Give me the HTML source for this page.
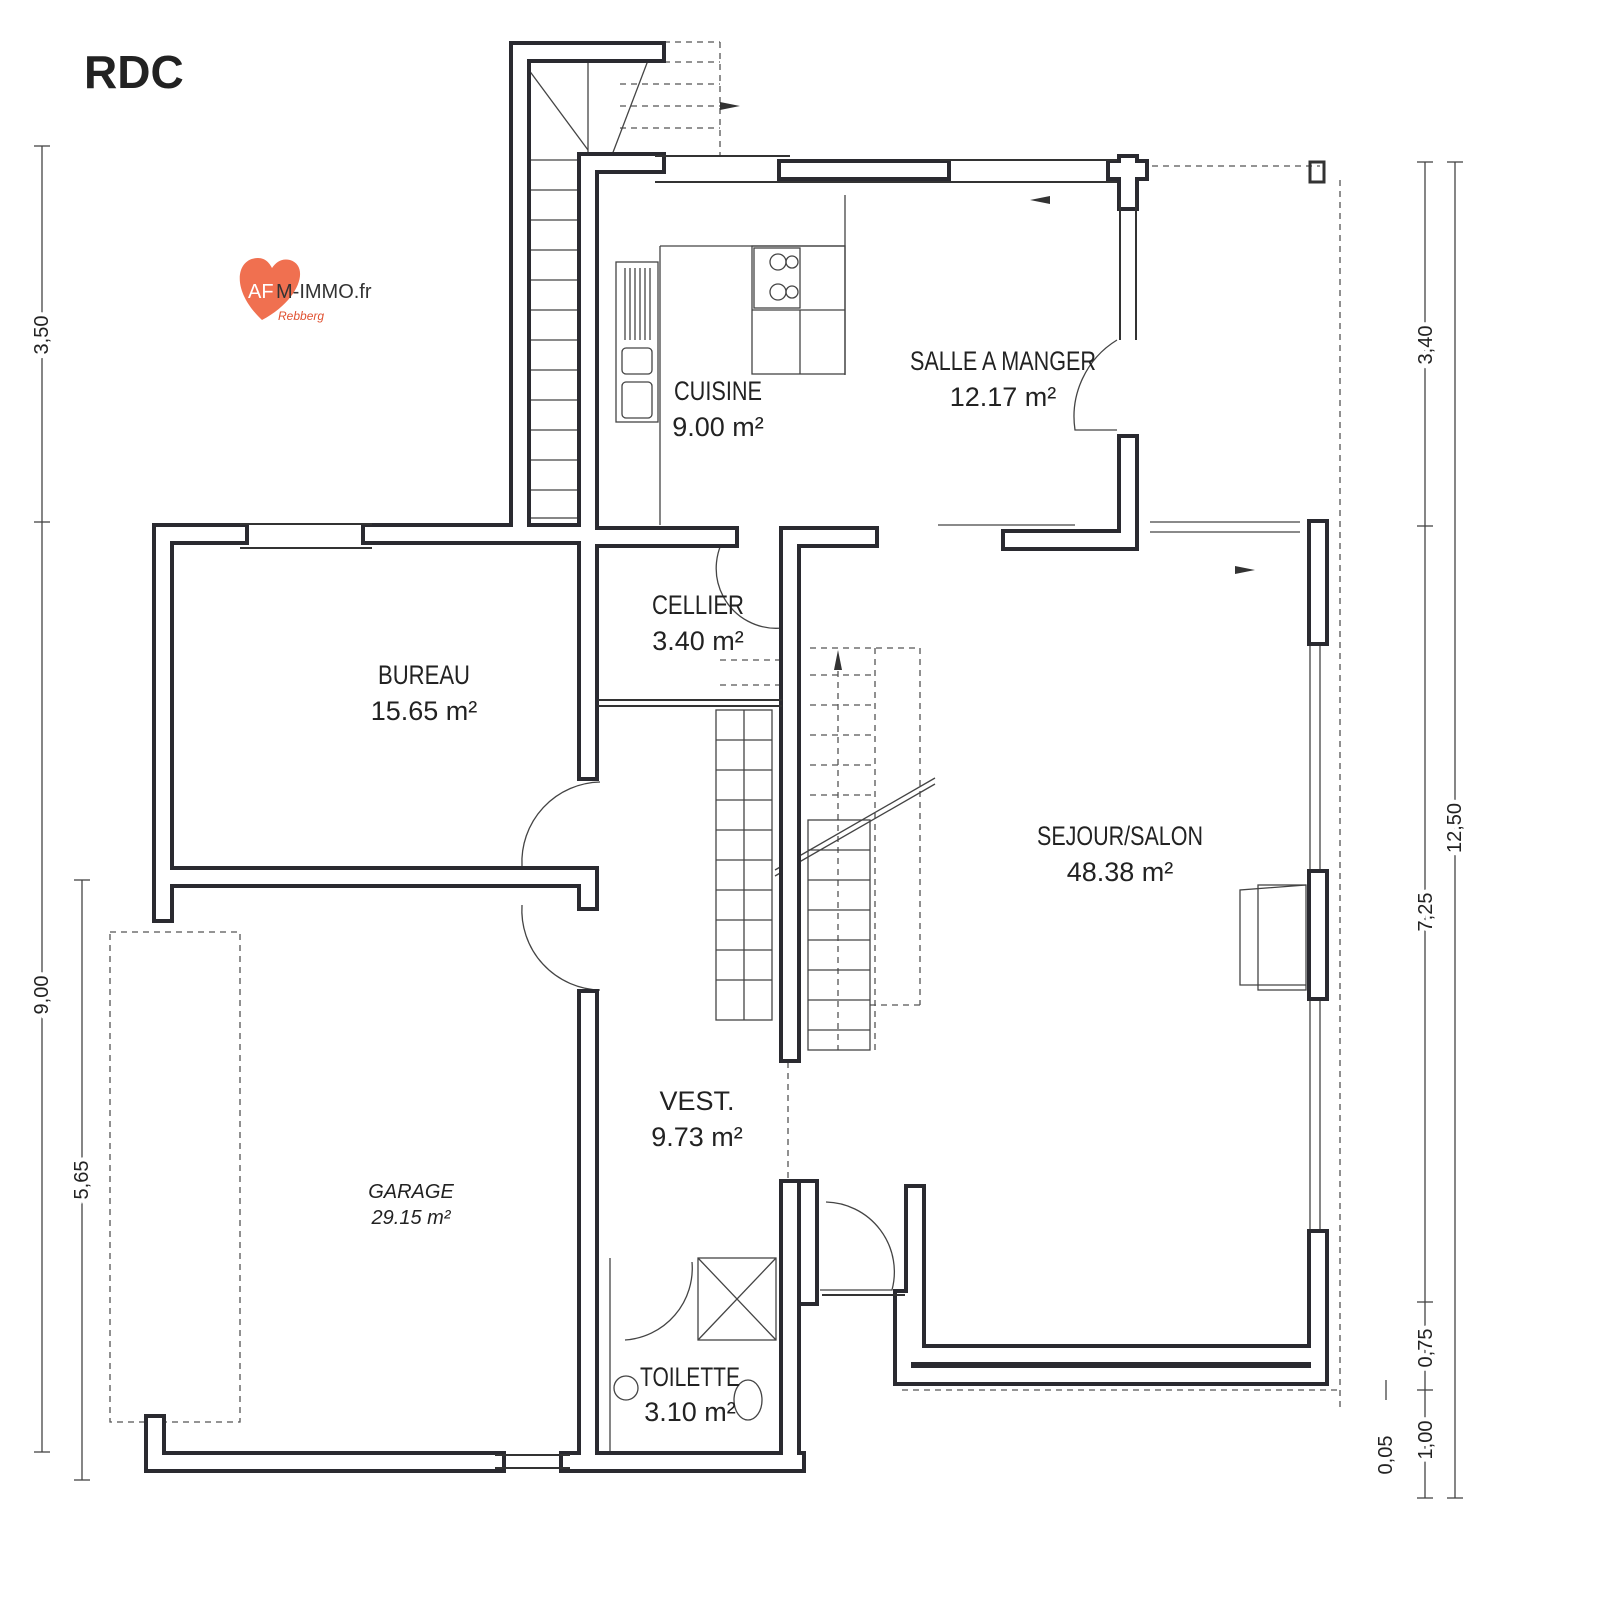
<!DOCTYPE html>
<html><head><meta charset="utf-8"><style>
html,body{margin:0;padding:0;background:#fff}
svg{display:block}
text{font-family:"Liberation Sans Narrow","Liberation Sans",sans-serif;fill:#222}
</style></head><body>
<svg width="1600" height="1600" viewBox="0 0 1600 1600" xmlns="http://www.w3.org/2000/svg">
<rect width="1600" height="1600" fill="#fff"/>
<text x="84" y="88" font-family="Liberation Sans" font-weight="bold" font-size="46" style="font-family:'Liberation Sans',sans-serif">RDC</text>
<path d="M262 320 C230 290 236 258 258 258 C266 258 270 264 272 268 C276 262 282 258 290 260 C310 266 300 300 262 320Z" fill="#f07050"/>
<text x="248" y="298" font-size="20" fill="#fff" style="fill:#fff">AF</text>
<text x="276" y="298" font-size="20" style="fill:#333">M-IMMO.fr</text>
<text x="278" y="320" font-size="12" font-style="italic" style="fill:#e05030">Rebberg</text>

<g stroke="#444" stroke-width="1.3" fill="none">
<line x1="42" y1="146" x2="42" y2="1452"/>
<line x1="34" y1="146" x2="50" y2="146"/><line x1="34" y1="522" x2="50" y2="522"/><line x1="34" y1="1452" x2="50" y2="1452"/>
<line x1="82" y1="880" x2="82" y2="1480"/>
<line x1="74" y1="880" x2="90" y2="880"/><line x1="74" y1="1480" x2="90" y2="1480"/>
<line x1="1455" y1="162" x2="1455" y2="1498"/>
<line x1="1447" y1="162" x2="1463" y2="162"/><line x1="1447" y1="1498" x2="1463" y2="1498"/>
<line x1="1425" y1="162" x2="1425" y2="1498"/>
<line x1="1417" y1="162" x2="1433" y2="162"/><line x1="1417" y1="526" x2="1433" y2="526"/><line x1="1417" y1="1302" x2="1433" y2="1302"/><line x1="1417" y1="1390" x2="1433" y2="1390"/><line x1="1417" y1="1498" x2="1433" y2="1498"/>
<line x1="1386" y1="1380" x2="1386" y2="1400"/>
</g>
<g font-size="20" style="font-family:'Liberation Sans',sans-serif">
<text transform="translate(48,995) rotate(-90)" text-anchor="middle" stroke="#fff" stroke-width="8" style="paint-order:stroke">9,00</text>
<text transform="translate(88,1180) rotate(-90)" text-anchor="middle" stroke="#fff" stroke-width="8" style="paint-order:stroke">5,65</text>
<text transform="translate(1461,828) rotate(-90)" text-anchor="middle" stroke="#fff" stroke-width="8" style="paint-order:stroke">12,50</text>
<text transform="translate(1432,345) rotate(-90)" text-anchor="middle" stroke="#fff" stroke-width="8" style="paint-order:stroke">3,40</text>
<text transform="translate(1432,912) rotate(-90)" text-anchor="middle" stroke="#fff" stroke-width="8" style="paint-order:stroke">7,25</text>
<text transform="translate(1432,1348) rotate(-90)" text-anchor="middle" stroke="#fff" stroke-width="8" style="paint-order:stroke">0,75</text>
<text transform="translate(1432,1440) rotate(-90)" text-anchor="middle" stroke="#fff" stroke-width="8" style="paint-order:stroke">1,00</text>
<text transform="translate(1392,1455) rotate(-90)" text-anchor="middle">0,05</text>
<text transform="translate(48,335) rotate(-90)" text-anchor="middle" stroke="#fff" stroke-width="8" style="paint-order:stroke">3,50</text>
</g>

<g stroke="#555" stroke-width="1.3" fill="none" stroke-dasharray="6,5">
<rect x="110" y="932" width="130" height="490"/>
<line x1="1130" y1="166" x2="1320" y2="166"/>
<line x1="1340" y1="180" x2="1340" y2="1410"/>
<line x1="902" y1="1390" x2="1340" y2="1390"/>
<line x1="620" y1="42" x2="720" y2="42"/><line x1="720" y1="42" x2="720" y2="155"/>
<line x1="620" y1="62" x2="720" y2="62"/><line x1="620" y1="84" x2="720" y2="84"/><line x1="620" y1="106" x2="720" y2="106"/><line x1="620" y1="128" x2="720" y2="128"/>
<line x1="810" y1="648" x2="920" y2="648"/><line x1="920" y1="648" x2="920" y2="1005"/><line x1="870" y1="1005" x2="920" y2="1005"/>
<line x1="875" y1="648" x2="875" y2="1050"/>
<line x1="838" y1="660" x2="838" y2="1050"/>
<line x1="720" y1="660" x2="785" y2="660"/><line x1="720" y1="685" x2="785" y2="685"/>
<line x1="788" y1="1040" x2="788" y2="1180"/>
</g>
<g stroke="#555" stroke-width="1.2" stroke-dasharray="6,5">
<line x1="810" y1="675" x2="875" y2="675"/><line x1="810" y1="705" x2="875" y2="705"/><line x1="810" y1="735" x2="875" y2="735"/><line x1="810" y1="765" x2="875" y2="765"/><line x1="810" y1="795" x2="875" y2="795"/>
</g>

<g stroke="#444" stroke-width="1.3" fill="none">
<rect x="520" y="58" width="68" height="460"/>
<line x1="520" y1="58" x2="588" y2="150"/>
<line x1="655" y1="42" x2="612" y2="155"/>
<line x1="520" y1="160" x2="588" y2="160"/><line x1="520" y1="190" x2="588" y2="190"/><line x1="520" y1="220" x2="588" y2="220"/><line x1="520" y1="250" x2="588" y2="250"/><line x1="520" y1="280" x2="588" y2="280"/><line x1="520" y1="310" x2="588" y2="310"/><line x1="520" y1="340" x2="588" y2="340"/><line x1="520" y1="370" x2="588" y2="370"/><line x1="520" y1="400" x2="588" y2="400"/><line x1="520" y1="430" x2="588" y2="430"/><line x1="520" y1="460" x2="588" y2="460"/><line x1="520" y1="490" x2="588" y2="490"/>
<rect x="716" y="710" width="56" height="310"/>
<line x1="744" y1="710" x2="744" y2="1020"/>
<line x1="716" y1="740" x2="772" y2="740"/><line x1="716" y1="770" x2="772" y2="770"/><line x1="716" y1="800" x2="772" y2="800"/><line x1="716" y1="830" x2="772" y2="830"/><line x1="716" y1="860" x2="772" y2="860"/><line x1="716" y1="890" x2="772" y2="890"/><line x1="716" y1="920" x2="772" y2="920"/><line x1="716" y1="950" x2="772" y2="950"/><line x1="716" y1="980" x2="772" y2="980"/>
<rect x="808" y="820" width="62" height="230"/>
<line x1="808" y1="850" x2="870" y2="850"/><line x1="808" y1="880" x2="870" y2="880"/><line x1="808" y1="910" x2="870" y2="910"/><line x1="808" y1="940" x2="870" y2="940"/><line x1="808" y1="970" x2="870" y2="970"/><line x1="808" y1="1000" x2="870" y2="1000"/><line x1="808" y1="1030" x2="870" y2="1030"/>
<line x1="775" y1="870" x2="935" y2="778"/><line x1="775" y1="876" x2="935" y2="784"/>
<line x1="660" y1="246" x2="845" y2="246"/><line x1="660" y1="246" x2="660" y2="525"/>
<line x1="845" y1="195" x2="845" y2="375"/>
<rect x="752" y="246" width="93" height="128"/>
<line x1="752" y1="310" x2="845" y2="310"/><line x1="800" y1="310" x2="800" y2="374"/>
<rect x="754" y="248" width="46" height="60"/>
<circle cx="778" cy="262" r="8"/><circle cx="778" cy="292" r="8"/><circle cx="792" cy="262" r="6"/><circle cx="792" cy="292" r="6"/>
<rect x="616" y="262" width="42" height="160"/>
<rect x="622" y="348" width="30" height="26" rx="4"/><rect x="622" y="382" width="30" height="36" rx="4"/>
<line x1="625" y1="268" x2="625" y2="340"/><line x1="630" y1="268" x2="630" y2="340"/><line x1="635" y1="268" x2="635" y2="340"/><line x1="640" y1="268" x2="640" y2="340"/><line x1="645" y1="268" x2="645" y2="340"/><line x1="650" y1="268" x2="650" y2="340"/>
<path d="M1117 340 A90 90 0 0 0 1075 430 L1117 430"/>
<path d="M730 530 A60 60 0 0 0 782 628"/>
<path d="M600 782 A80 80 0 0 0 522 866"/>
<path d="M600 990 A80 80 0 0 1 522 905"/>
<path d="M826 1202 A70 70 0 0 1 892 1290 L820 1290"/>
<path d="M692 1262 A72 72 0 0 1 625 1340"/>
<rect x="698" y="1258" width="78" height="82"/><line x1="698" y1="1258" x2="776" y2="1340"/><line x1="776" y1="1258" x2="698" y2="1340"/>
<circle cx="626" cy="1388" r="12"/><ellipse cx="748" cy="1400" rx="14" ry="20"/>
<path d="M1306 885 L1240 890 L1240 985 L1306 985"/><rect x="1258" y="885" width="48" height="105"/>
<line x1="938" y1="525" x2="1075" y2="525"/>
<line x1="1150" y1="522" x2="1300" y2="522"/><line x1="1150" y1="532" x2="1300" y2="532"/>
<line x1="1310" y1="640" x2="1310" y2="1230"/><line x1="1320" y1="640" x2="1320" y2="1230"/>
<line x1="610" y1="1258" x2="610" y2="1455"/>
</g>
<g fill="#333"><path d="M720 102 L740 106 L720 110Z"/><path d="M1030 200 L1050 196 L1050 204Z"/><path d="M1235 566 L1255 570 L1235 574Z"/><path d="M838 650 L834 670 L842 670Z"/></g>

<g fill="none" stroke-linejoin="miter" stroke-linecap="square">
<g stroke="#2a2a30" stroke-width="22">
<path d="M163 912 L163 534 L238 534"/>
<path d="M372 534 L588 534"/>
<path d="M588 532 L588 770"/>
<path d="M163 877 L588 877 L588 900"/>
<path d="M155 1425 L155 1462 L495 1462"/>
<path d="M570 1462 L795 1462"/>
<path d="M588 1462 L588 1000"/>
<path d="M588 525 L588 163 L655 163"/>
<path d="M788 170 L940 170"/>
<path d="M1117 170 L1138 170"/>
<path d="M1128 165 L1128 200"/>
<path d="M1128 445 L1128 540 L1012 540"/>
<path d="M598 537 L728 537"/>
<path d="M790 1052 L790 537 L868 537"/>
<path d="M1318 530 L1318 635"/>
<path d="M1318 880 L1318 990"/>
<path d="M1318 1240 L1318 1375 L904 1375 L904 1300"/>
<path d="M915 1195 L915 1355 L1305 1355"/>
<path d="M790 1190 L790 1462"/>
<path d="M808 1190 L808 1295"/>
<path d="M520 52 L520 522"/><path d="M520 52 L655 52"/>
</g>
<g stroke="#fff" stroke-width="14">
<path d="M163 912 L163 534 L238 534"/>
<path d="M372 534 L588 534"/>
<path d="M588 532 L588 770"/>
<path d="M163 877 L588 877 L588 900"/>
<path d="M155 1425 L155 1462 L495 1462"/>
<path d="M570 1462 L795 1462"/>
<path d="M588 1462 L588 1000"/>
<path d="M588 525 L588 163 L655 163"/>
<path d="M788 170 L940 170"/>
<path d="M1117 170 L1138 170"/>
<path d="M1128 165 L1128 200"/>
<path d="M1128 445 L1128 540 L1012 540"/>
<path d="M598 537 L728 537"/>
<path d="M790 1052 L790 537 L868 537"/>
<path d="M1318 530 L1318 635"/>
<path d="M1318 880 L1318 990"/>
<path d="M1318 1240 L1318 1375 L904 1375 L904 1300"/>
<path d="M915 1195 L915 1355 L1305 1355"/>
<path d="M790 1190 L790 1462"/>
<path d="M808 1190 L808 1295"/>
<path d="M520 52 L520 522"/><path d="M520 52 L655 52"/>
</g>
</g>
<g stroke="#333" stroke-width="2" fill="none">
<line x1="240" y1="524" x2="372" y2="524"/><line x1="240" y1="548" x2="372" y2="548"/>
<line x1="655" y1="156" x2="790" y2="156"/><line x1="655" y1="182" x2="1117" y2="182"/>
<line x1="940" y1="160" x2="1117" y2="160"/>
<line x1="1120" y1="200" x2="1120" y2="340"/><line x1="1136" y1="200" x2="1136" y2="340"/>
<line x1="495" y1="1455" x2="570" y2="1455"/><line x1="495" y1="1468" x2="570" y2="1468"/>
<line x1="598" y1="700" x2="782" y2="700"/><line x1="598" y1="706" x2="782" y2="706"/>
<line x1="822" y1="1295" x2="905" y2="1295"/>
<rect x="1310" y="162" width="14" height="20" stroke-width="3"/>
</g>

<g font-size="27" text-anchor="middle">
<text x="718" y="400" textLength="88" lengthAdjust="spacingAndGlyphs">CUISINE</text>
<text x="718" y="436">9.00 m²</text>
<text x="1003" y="370" textLength="186" lengthAdjust="spacingAndGlyphs">SALLE A MANGER</text>
<text x="1003" y="406">12.17 m²</text>
<text x="698" y="614" textLength="92" lengthAdjust="spacingAndGlyphs">CELLIER</text>
<text x="698" y="650">3.40 m²</text>
<text x="424" y="684" textLength="92" lengthAdjust="spacingAndGlyphs">BUREAU</text>
<text x="424" y="720">15.65 m²</text>
<text x="1120" y="845" textLength="166" lengthAdjust="spacingAndGlyphs">SEJOUR/SALON</text>
<text x="1120" y="881">48.38 m²</text>
<text x="697" y="1110">VEST.</text>
<text x="697" y="1146">9.73 m²</text>
<text x="690" y="1386" textLength="100" lengthAdjust="spacingAndGlyphs">TOILETTE</text>
<text x="690" y="1421">3.10 m²</text>
</g>
<g font-size="20" font-style="italic" text-anchor="middle">
<text x="411" y="1198">GARAGE</text>
<text x="411" y="1224">29.15 m²</text>
</g>
</svg>
</body></html>
